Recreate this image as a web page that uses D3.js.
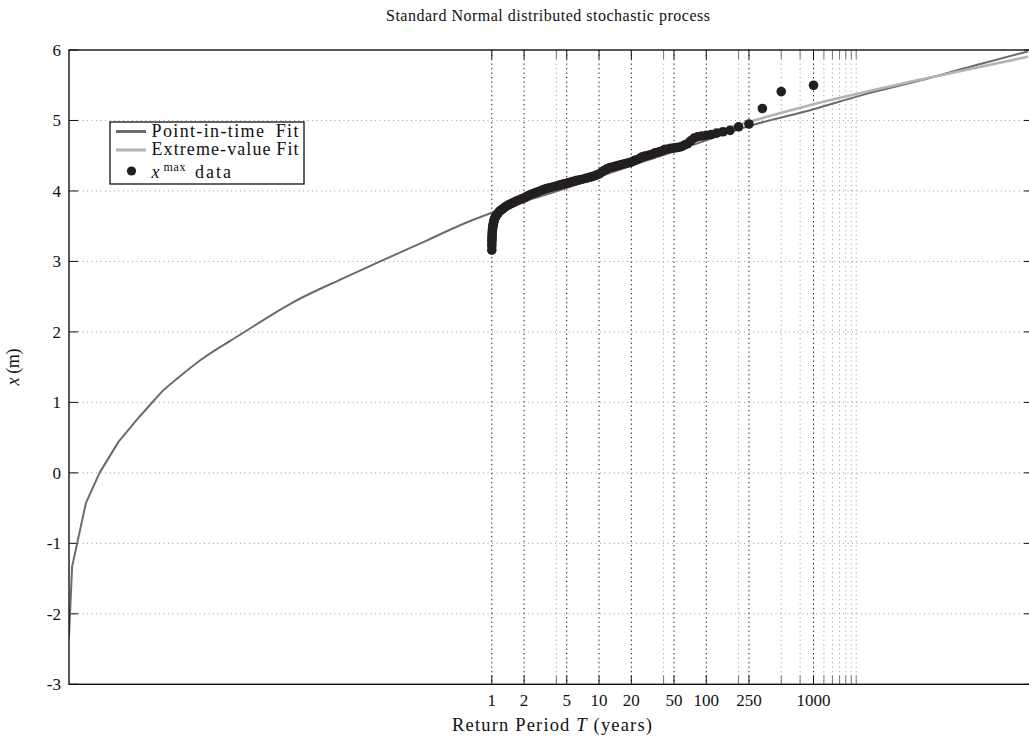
<!DOCTYPE html>
<html>
<head>
<meta charset="utf-8">
<script src="https://cdn.jsdelivr.net/npm/d3@7"></script>
<style>
  html, body { margin: 0; padding: 0; background: #fff; }
  svg { display: block; font-family: "Liberation Serif", "DejaVu Serif", serif; }
</style>
</head>
<body>
<svg id="chart" width="1029" height="740"></svg>
<script>
// ---------------- data ----------------
const titleText = "Standard Normal distributed stochastic process";
const yTickValues = [-3, -2, -1, 0, 1, 2, 3, 4, 5, 6];
const xGridValues = [1, 2, 4, 5, 10, 20, 40, 50, 100, 200, 250, 500, 750, 1000, 1250, 1500, 1750, 2000, 2250, 2500];
const xTickLabels = [1, 2, 5, 10, 20, 50, 100, 250, 1000];
const xDomain = [1 / 8760, 1e5];

// Point-in-time fit (return period in years, level in m); first points are coarse samples
const pitT = [1.1416e-4, 1.22e-4, 1.64e-4, 2.2e-4, 3.3e-4, 5.2e-4, 8.6e-4, 2.0e-3, 4.5e-3, 1.4e-2, 4.1e-2, 9.1e-2, 0.25, 0.5, 1, 2, 5, 10, 20, 50, 100, 250, 1000, 3000, 1e4, 3e4, 1e5];
const pitX = [-2.32, -1.33, -0.43, 0.0, 0.44, 0.80, 1.17, 1.62, 1.96, 2.42, 2.76, 3.0, 3.30, 3.51, 3.69, 3.85, 4.04, 4.20, 4.36, 4.56, 4.72, 4.92, 5.16, 5.37, 5.57, 5.77, 5.98];
const pitCoarseCount = 7; // number of leading coarse samples drawn as straight segments

// Extreme-value fit
const evT = [1.3, 2, 5, 10, 20, 50, 100, 250, 1000, 1e4, 1e5];
const evX = [3.75, 3.89, 4.10, 4.24, 4.40, 4.62, 4.80, 4.98, 5.23, 5.58, 5.905];

// Annual maxima data: rank (1 = largest) and value; T = recordYears / rank
const recordYears = 1000;
const dataRank = [1, 2, 3, 4, 5, 6, 7, 8, 9, 10, 11, 12, 13, 14, 15, 16, 17, 18, 19, 20, 21, 22, 24, 25, 27, 28, 30, 32, 34, 36, 38, 40, 42, 45, 47, 50, 53, 56, 59, 63, 67, 71, 75, 80, 85, 90, 95, 100, 106, 112, 118, 125, 132, 140, 150, 160, 170, 180, 190, 200, 212, 225, 237, 250, 265, 280, 297, 315, 335, 355, 377, 400, 425, 450, 475, 500, 530, 560, 590, 620, 650, 680, 710, 740, 770, 800, 825, 850, 870, 890, 905, 920, 933, 945, 953, 960, 966, 972, 977, 982, 986, 989, 992, 994, 996, 997, 998, 999, 1000];
const dataX = [5.50, 5.41, 5.17, 4.95, 4.91, 4.86, 4.84, 4.82, 4.80, 4.79, 4.78, 4.77, 4.75, 4.71, 4.67, 4.65, 4.63, 4.62, 4.615, 4.61, 4.605, 4.60, 4.59, 4.58, 4.56, 4.55, 4.54, 4.52, 4.51, 4.50, 4.49, 4.48, 4.46, 4.44, 4.43, 4.41, 4.40, 4.39, 4.38, 4.37, 4.36, 4.35, 4.34, 4.33, 4.31, 4.29, 4.265, 4.24, 4.225, 4.21, 4.20, 4.19, 4.18, 4.17, 4.16, 4.15, 4.14, 4.13, 4.12, 4.11, 4.10, 4.09, 4.08, 4.07, 4.06, 4.05, 4.04, 4.03, 4.015, 4.00, 3.985, 3.97, 3.955, 3.94, 3.92, 3.90, 3.885, 3.87, 3.855, 3.84, 3.825, 3.81, 3.795, 3.78, 3.76, 3.74, 3.725, 3.71, 3.69, 3.67, 3.655, 3.64, 3.62, 3.60, 3.58, 3.56, 3.54, 3.52, 3.50, 3.47, 3.445, 3.42, 3.39, 3.36, 3.33, 3.30, 3.26, 3.22, 3.16];

// ---------------- drawing ----------------
const svg = d3.select("#chart");
const L = 69, T0 = 50, B = 684.3, R = 1033;

const x = d3.scaleLog().domain(xDomain).range([L, 1028]);
const y = d3.scaleLinear().domain([-3, 6]).range([B, T0]);

const darkCol = "#6b6b6b", lightCol = "#b3b3b3", dotCol = "#231f20";

svg.append("rect").attr("width", 1029).attr("height", 740).attr("fill", "#fff");

svg.append("defs").append("clipPath").attr("id", "clip")
  .append("rect").attr("x", L).attr("y", T0).attr("width", R - L).attr("height", B - T0);

// horizontal grid
svg.append("g").selectAll("line").data(yTickValues.filter(v => v > -3 && v < 6)).join("line")
  .attr("x1", L).attr("x2", R).attr("y1", d => y(d)).attr("y2", d => y(d))
  .attr("stroke", "#9a9a9a").attr("stroke-width", 1).attr("stroke-dasharray", "1,3.5");

// vertical grid
const isMajor = d => xTickLabels.includes(d);
svg.append("g").selectAll("line").data(xGridValues).join("line")
  .attr("x1", d => x(d)).attr("x2", d => x(d)).attr("y1", T0).attr("y2", B)
  .attr("stroke", d => isMajor(d) ? "#111" : "#aaa")
  .attr("stroke-width", 1).attr("stroke-dasharray", "1.3,3.2");

// ticks (inward)
const tk = svg.append("g").attr("stroke", "#111").attr("stroke-width", 1);
xGridValues.forEach(d => {
  const c = isMajor(d) ? "#111" : "#777";
  tk.append("line").attr("x1", x(d)).attr("x2", x(d)).attr("y1", B).attr("y2", B - 9).attr("stroke", c);
  tk.append("line").attr("x1", x(d)).attr("x2", x(d)).attr("y1", T0).attr("y2", T0 + 9).attr("stroke", c);
});
yTickValues.forEach(d => {
  tk.append("line").attr("x1", L).attr("x2", L + 9).attr("y1", y(d)).attr("y2", y(d));
  tk.append("line").attr("x1", R).attr("x2", R - 9).attr("y1", y(d)).attr("y2", y(d));
});

const plot = svg.append("g").attr("clip-path", "url(#clip)");

const pitPts = pitT.map((t, i) => [t, pitX[i]]);
const lineLin = d3.line().x(d => x(d[0])).y(d => y(d[1]));
const lineSmooth = d3.line().x(d => x(d[0])).y(d => y(d[1])).curve(d3.curveMonotoneX);

plot.append("path").datum(pitPts.slice(0, pitCoarseCount))
  .attr("d", lineLin).attr("fill", "none").attr("stroke", darkCol).attr("stroke-width", 2)
  .attr("stroke-linejoin", "round");
plot.append("path").datum(pitPts.slice(pitCoarseCount - 1))
  .attr("d", lineSmooth).attr("fill", "none").attr("stroke", darkCol).attr("stroke-width", 2);

plot.append("path").datum(evT.map((t, i) => [t, evX[i]]))
  .attr("d", lineSmooth).attr("fill", "none").attr("stroke", lightCol).attr("stroke-width", 2.6);

plot.append("g").selectAll("circle").data(dataRank.map((r, i) => [recordYears / r, dataX[i]])).join("circle")
  .attr("cx", d => x(d[0])).attr("cy", d => y(d[1])).attr("r", 4.8).attr("fill", dotCol);

// frame
svg.append("rect").attr("x", L).attr("y", T0).attr("width", R - L).attr("height", B - T0)
  .attr("fill", "none").attr("stroke", "#111").attr("stroke-width", 1.4);

// y tick labels
svg.append("g").selectAll("text").data(yTickValues).join("text")
  .attr("x", 61).attr("y", d => y(d)).attr("dy", "0.35em").attr("text-anchor", "end")
  .attr("font-size", 17).attr("fill", "#111").text(d => d);

// x tick labels
svg.append("g").selectAll("text").data(xTickLabels).join("text")
  .attr("x", d => x(d)).attr("y", 706).attr("text-anchor", "middle")
  .attr("font-size", 17).attr("fill", "#111").text(d => d);

// title
svg.append("text").attr("x", 548).attr("y", 21).attr("text-anchor", "middle")
  .attr("font-size", 16).attr("fill", "#111")
  .attr("textLength", 324).attr("lengthAdjust", "spacing").text(titleText);

// x label
const xl = svg.append("text").attr("x", 552).attr("y", 731).attr("text-anchor", "middle")
  .attr("font-size", 18.5).attr("fill", "#111")
  .attr("textLength", 200).attr("lengthAdjust", "spacing");
xl.append("tspan").text("Return Period ");
xl.append("tspan").attr("font-style", "italic").text("T");
xl.append("tspan").text(" (years)");

// y label
const yl = svg.append("text").attr("transform", "translate(19,367) rotate(-90)")
  .attr("text-anchor", "middle").attr("font-size", 18).attr("fill", "#111")
  .attr("textLength", 37).attr("lengthAdjust", "spacing");
yl.append("tspan").attr("font-style", "italic").text("x");
yl.append("tspan").text(" (m)");

// legend
const lg = svg.append("g");
lg.append("rect").attr("x", 110).attr("y", 122).attr("width", 194).attr("height", 62)
  .attr("fill", "#fff").attr("stroke", "#111").attr("stroke-width", 1.3);
lg.append("line").attr("x1", 116).attr("x2", 146).attr("y1", 131.5).attr("y2", 131.5)
  .attr("stroke", darkCol).attr("stroke-width", 3);
lg.append("text").attr("x", 151.5).attr("y", 137).attr("font-size", 18).attr("fill", "#111")
  .attr("textLength", 147).attr("lengthAdjust", "spacing")
  .text("Point-in-time\u2002Fit");
lg.append("line").attr("x1", 116).attr("x2", 146).attr("y1", 150).attr("y2", 150)
  .attr("stroke", lightCol).attr("stroke-width", 3);
lg.append("text").attr("x", 151.5).attr("y", 155).attr("font-size", 18).attr("fill", "#111")
  .attr("textLength", 147).attr("lengthAdjust", "spacing")
  .text("Extreme-value\u2009Fit");
lg.append("circle").attr("cx", 131.5).attr("cy", 171).attr("r", 4.6).attr("fill", dotCol);
lg.append("text").attr("x", 151.5).attr("y", 177.5).attr("font-size", 18).attr("font-style", "italic")
  .attr("fill", "#111").text("x");
lg.append("text").attr("x", 163.5).attr("y", 170.5).attr("font-size", 12).attr("fill", "#111")
  .attr("textLength", 22).attr("lengthAdjust", "spacing").text("max");
lg.append("text").attr("x", 195).attr("y", 177.5).attr("font-size", 18).attr("fill", "#111")
  .attr("textLength", 36).attr("lengthAdjust", "spacing").text("data");
</script>
</body>
</html>
